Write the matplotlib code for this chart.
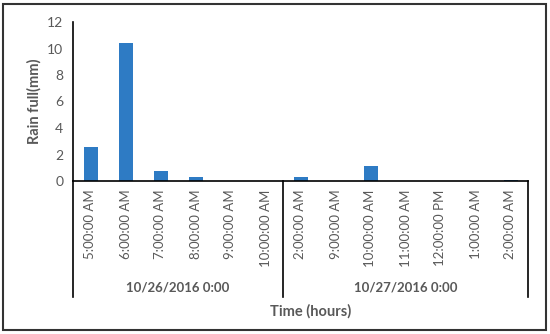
import matplotlib.pyplot as plt
from matplotlib.patches import Rectangle

# hourly rainfall readings
hours = ["5:00:00 AM", "6:00:00 AM", "7:00:00 AM", "8:00:00 AM", "9:00:00 AM",
         "10:00:00 AM", "2:00:00 AM", "9:00:00 AM", "10:00:00 AM", "11:00:00 AM",
         "12:00:00 PM", "1:00:00 AM", "2:00:00 AM"]
rain_mm = [2.6, 10.45, 0.75, 0.3, 0.0, 0.0, 0.3, 0.0, 1.15, 0.0, 0.0, 0.0, 0.05]
days = ["10/26/2016 0:00", "10/27/2016 0:00"]
day_sizes = [6, 7]
y_ticks = [0, 2, 4, 6, 8, 10, 12]

plt.rcParams["font.family"] = ["Lato", "DejaVu Sans"]
grey = "#595959"

fig = plt.figure(figsize=(5.5, 3.34), dpi=100)
ax = fig.add_axes([73 / 550, 1 - 181 / 334, (528 - 73) / 550, (181 - 22) / 334])

x = list(range(len(hours)))
ax.bar(x, rain_mm, width=0.4, color="#2E7BC4")
ax.set_xlim(-0.5, len(hours) - 0.5)
ax.set_ylim(0, 12)
ax.set_yticks(y_ticks)
ax.set_yticklabels([str(t) for t in y_ticks], color=grey, fontsize=10)
ax.set_xticks(x)
ax.set_xticklabels(hours, rotation=90, color=grey, fontsize=9.5, va="top")
ax.tick_params(axis="both", length=0)
ax.tick_params(axis="x", pad=6)
ax.tick_params(axis="y", pad=7)

for side in ["top", "right"]:
    ax.spines[side].set_visible(False)
for side in ["left", "bottom"]:
    ax.spines[side].set_color("black")
    ax.spines[side].set_linewidth(1.2)

# group separators and day labels under the hour labels
trans = ax.get_xaxis_transform()
start = -0.5
edges = [start]
for n in day_sizes:
    edges.append(edges[-1] + n)
for e in edges:
    ax.plot([e, e], [0, -0.73], transform=trans, color="black", lw=1.2, clip_on=False)
for i, day in enumerate(days):
    mid = (edges[i] + edges[i + 1]) / 2
    ax.text(mid, -0.67, day, transform=trans, ha="center", va="center",
            fontsize=9.5, fontweight="bold", color=grey)

ax.set_ylabel("Rain full(mm)", fontsize=10.5, fontweight="bold", color=grey, labelpad=4)
fig.text(311 / 550, 1 - 311 / 334, "Time (hours)", ha="center", va="center",
         fontsize=10.5, fontweight="bold", color=grey)

fig.patches.append(Rectangle((3 / 550, 4 / 334), 543 / 550, 326 / 334, transform=fig.transFigure,
                             fill=False, edgecolor="#333333", lw=1.5))

fig.savefig("out.png", dpi=100)
